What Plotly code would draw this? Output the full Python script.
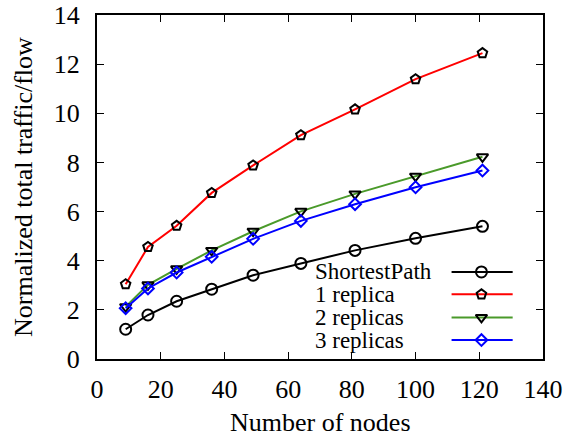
import plotly.graph_objects as go

nodes = [9, 16, 25, 36, 49, 64, 81, 100, 121]
shortest_path = [1.21, 1.79, 2.35, 2.84, 3.41, 3.89, 4.42, 4.91, 5.40]
replica_1 = [3.04, 4.56, 5.42, 6.76, 7.88, 9.11, 10.16, 11.39, 12.45]
replicas_2 = [2.13, 3.02, 3.67, 4.42, 5.20, 6.01, 6.72, 7.44, 8.23]
replicas_3 = [2.07, 2.87, 3.52, 4.16, 4.89, 5.62, 6.30, 6.99, 7.67]
series_names = ["ShortestPath", "1 replica", "2 replicas", "3 replicas"]

x_ticks = [0, 20, 40, 60, 80, 100, 120, 140]
y_ticks = [0, 2, 4, 6, 8, 10, 12, 14]
x_title = "Number of nodes"
y_title = "Normalized total traffic/flow"

FONT = "serif"
styles = [
    dict(color="black", symbol="circle-open", size=11, mcolor="black"),
    dict(color="#ff0000", symbol="pentagon-open", size=10, mcolor="black"),
    dict(color="#4a9a2a", symbol="triangle-down-open", size=10, mcolor="black"),
    dict(color="#0000ff", symbol="diamond-open", size=9, mcolor="#0000ff"),
]

fig = go.Figure()
for name, ys, st in zip(series_names, [shortest_path, replica_1, replicas_2, replicas_3], styles):
    fig.add_trace(go.Scatter(
        x=nodes, y=ys, mode="lines+markers", name=name, showlegend=False,
        line=dict(color=st["color"], width=2),
        marker=dict(symbol=st["symbol"], size=st["size"], color=st["mcolor"],
                    line=dict(width=2, color=st["mcolor"])),
    ))

# Custom legend (text left, sample right) drawn on an overlay axis
leg_rows = [0.253, 0.188, 0.121, 0.055]
leg_x0, leg_xm, leg_x1 = 0.795, 0.862, 0.932
leg_text_x = 0.484
for name, yv, st in zip(series_names, leg_rows, styles):
    fig.add_trace(go.Scatter(
        x=[leg_x0, leg_x1], y=[yv, yv], xaxis="x2", yaxis="y2", mode="lines",
        line=dict(color=st["color"], width=2), showlegend=False, hoverinfo="skip"))
    fig.add_trace(go.Scatter(
        x=[leg_xm], y=[yv], xaxis="x2", yaxis="y2", mode="markers",
        marker=dict(symbol=st["symbol"], size=st["size"], color=st["mcolor"],
                    line=dict(width=2, color=st["mcolor"])),
        showlegend=False, hoverinfo="skip"))
    fig.add_annotation(x=leg_text_x, y=yv, xref="x2", yref="y2", text=name,
                       showarrow=False, xanchor="left", yanchor="middle",
                       font=dict(family=FONT, size=23, color="black"))

# Axis titles
fig.add_annotation(x=0.5, y=0, xref="paper", yref="paper", text=x_title, showarrow=False,
                   xanchor="center", yanchor="middle", yshift=-63,
                   font=dict(family=FONT, size=26, color="black"))
fig.add_annotation(x=0, y=0.5, xref="paper", yref="paper", text=y_title, showarrow=False,
                   xanchor="center", yanchor="middle", xshift=-74, textangle=-90,
                   font=dict(family=FONT, size=26, color="black"))

axis_common = dict(
    showgrid=False, zeroline=False, showline=True, linecolor="black", linewidth=2,
    mirror="ticks", ticks="inside", ticklen=7, tickwidth=1, tickcolor="black",
    tickfont=dict(family=FONT, size=26, color="black"), automargin=False,
)
fig.update_layout(
    width=567, height=437,
    margin=dict(l=97, r=24, t=15, b=78),
    paper_bgcolor="white", plot_bgcolor="white",
    showlegend=False,
    xaxis=dict(range=[0, 140], tickvals=x_ticks, ticktext=[str(v) for v in x_ticks],
               ticklabelstandoff=6, **axis_common),
    yaxis=dict(range=[0, 14], tickvals=y_ticks, ticktext=[str(v) for v in y_ticks],
               ticklabelstandoff=10, **axis_common),
    xaxis2=dict(overlaying="x", range=[0, 1], visible=False, anchor="y2"),
    yaxis2=dict(overlaying="y", range=[0, 1], visible=False, anchor="x2"),
)

fig.write_html("out.html", post_script="document.body.style.margin='0';",
               config={"displayModeBar": False})
